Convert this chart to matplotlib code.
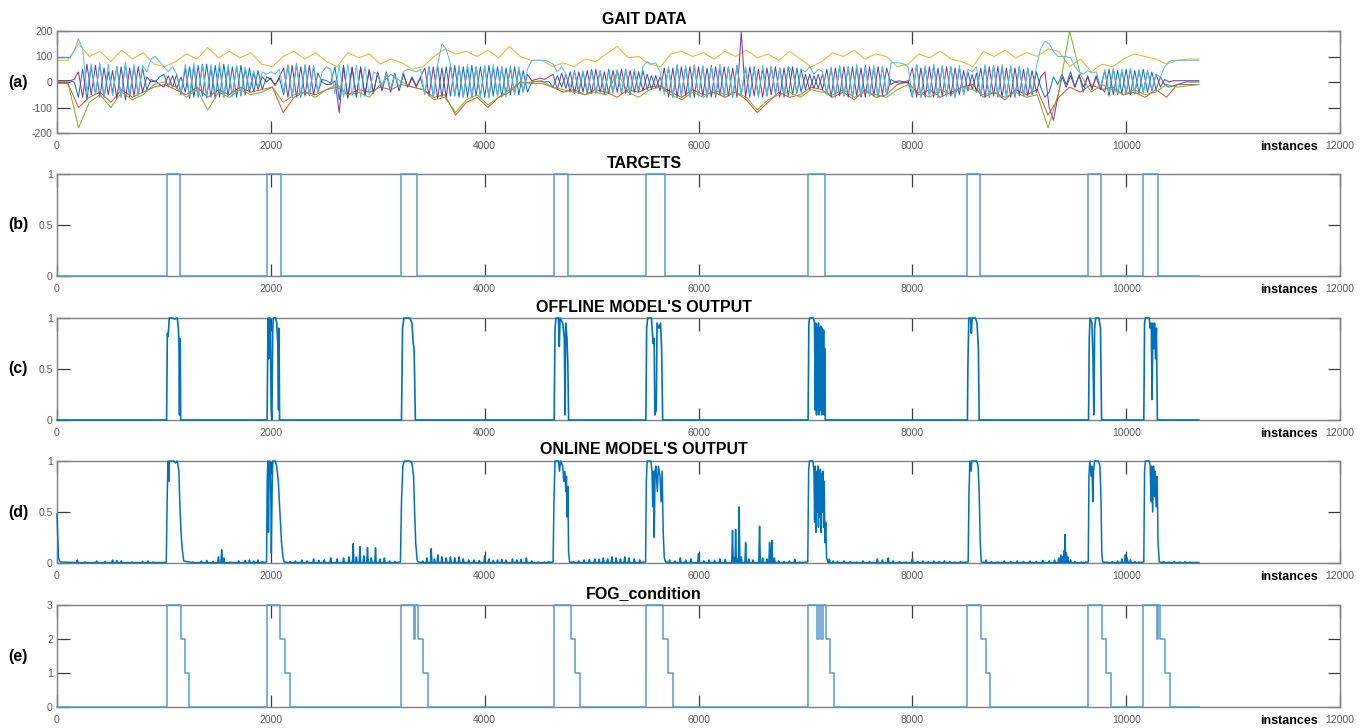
import numpy as np
import matplotlib.pyplot as plt

plt.rcParams['font.family'] = ['Liberation Sans', 'DejaVu Sans']

n_end = 10680  # last recorded instance

# ---------------- gait channels ----------------
# fast channels, one value every 40 instances
gait_blue = [
    5, 5, 5, 5, 0, -60, 50, -70, 60, -50, 70, -60, 40, -40, 60, -60, 70, -60, 60, -50, 55, -30, 10, 0, 20,
    30, -20, 25, -25, 20, -40, 60, -60, 65, -55, 70, -60, 65, -60, 70, -55, 60, -60, 65, -50, 55, -40, 45, -30, 20,
    10, -10, 15, -50, 65, -60, 70, -60, 65, -55, 60, -40, 10, 5, -5, 60, -70, 65, -65, 60, -60, 55, -50, 45, -40,
    35, -35, 40, -30, 35, -35, 30, -20, 20, -15, 15, -45, 60, -60, 65, -60, 60, -55, 65, -60, 60, -60, 65, -55, 60,
    -60, 65, -55, 60, -60, 55, -50, 60, -50, 45, -40, 0, 2, 3, 0, 2, -20, 25, -20, 30, -40, 45, -45, 40, -45,
    50, -45, 45, -50, 50, -40, 45, -45, 50, -50, 40, -40, 45, -30, 25, -25, 20, -40, 55, -60, 65, -55, 60, -60, 65,
    -55, 60, -60, 65, -60, 55, -55, 60, -60, 65, -50, 55, -60, 60, -55, 50, -55, 60, -45, 55, -60, 60, -50, 55, -40,
    30, -30, 25, -25, 30, -45, 55, -60, 60, -55, 60, -60, 55, -60, 65, -55, 55, -60, 60, -50, 10, 0, -5, 0, 5,
    -60, 65, -60, 60, -55, 65, -60, 60, -55, 60, -60, 55, -50, 40, -30, 35, -55, 60, -60, 65, -60, 60, -55, 60, -60,
    60, -55, 55, -50, 40, -20, -60, -40, 20, -10, 30, -10, 40, -20, 30, -40, 25, -30, 25, -20, -40, 50, -50, 45, -45,
    50, -50, 45, -45, 50, -40, 40, -30, 20, -10, -20, -15, -10, -5, 0, 0, 0, 0,
]
gait_purple = [
    5, 5, 5, 5, 10, 40, -60, 70, -50, 65, -60, 55, -50, 45, -65, 60, -70, 55, -55, 60, -40, 20, 0, 5, -10,
    -20, 25, -20, 30, -50, 55, -65, 60, -60, 70, -60, 55, -65, 60, -60, 55, -55, 60, -55, 50, -40, 35, -30, 20, 0,
    15, -15, 20, 55, -60, 65, -60, 60, -55, 65, -50, 35, 0, -10, -10, 5, -120, 60, -60, 55, -55, 60, -55, 50, -45,
    40, -30, 35, -40, 30, -30, 35, -20, 15, -20, 20, 55, -55, 60, -65, 55, -60, 65, -55, 60, -60, 55, -60, 60, -55,
    60, -60, 55, -55, 60, -50, 55, -45, 50, -40, 30, 5, 10, 15, 10, 20, 30, -30, 35, -25, 40, -45, 40, -40, 45,
    -45, 50, -40, 40, -45, 45, -40, 50, -45, 45, -40, 40, -35, 30, -30, 25, -35, 55, -60, 55, -60, 60, -55, 60, -60,
    60, -55, 55, -60, 60, -50, 60, -55, 55, -60, 195, -60, 60, -55, 50, -60, 55, -50, 60, -60, 55, -55, 60, -45, 50,
    -30, 30, -25, 30, -30, 50, -60, 55, -55, 60, -60, 60, -55, 55, -60, 60, -55, 60, -50, 55, -10, 0, 5, 0, -5,
    55, -60, 55, -60, 60, -60, 55, -55, 60, -55, 55, -50, 45, -35, 30, -40, 55, -60, 60, -55, 60, -60, 55, -60, 55,
    -55, 50, -55, 45, -40, 20, 40, -100, -150, -60, 20, -20, 25, -20, 25, -20, 20, -25, 20, -30, 45, -55, 50, -50, 45,
    -45, 50, -45, 45, -40, 45, -35, 30, -20, 10, 0, 5, 5, 5, 5, 5, 5, 5,
]
gait_cyan = [
    95, 95, 95, 95, 120, 170, 130, -40, 70, -50, 75, -60, 70, -55, 60, -60, 75, -50, 70, -55, 65, 40, 90, 100, 80,
    60, 40, 60, 30, -40, 70, -55, 75, -60, 65, -55, 70, -50, 75, -60, 70, -55, 65, -50, 60, -30, 45, -20, 40, 30,
    40, 30, 50, -40, 70, -60, 75, -55, 70, -50, 65, -40, 40, 60, 50, -45, 65, -60, 70, -55, 65, -60, 60, -50, 40,
    30, -20, 35, -30, 30, -25, 40, 50, 45, 40, 50, -50, 60, -60, 70, 150, 130, 70, -55, 65, -60, 70, -55, 60, -60,
    65, -60, 70, -55, 60, -60, 65, -50, 60, -40, 50, 85, 85, 85, 85, 80, 70, 40, 60, 30, -20, 40, -30, 45, -35,
    40, -40, 45, -35, 40, -45, 50, -40, 45, -40, 50, -30, 60, 80, 70, 75, 40, -50, 60, -60, 70, -55, 65, -60, 70,
    -55, 65, -60, 60, -50, 70, -55, 60, -60, 65, -55, 60, -50, 55, -60, 65, -55, 60, -50, 55, -45, 60, 40, -40, 50,
    40, 60, 30, 50, 40, -50, 60, -60, 65, -55, 60, -60, 70, -50, 60, -55, 65, -60, 60, -50, 75, 75, 75, 70, 60,
    -55, 70, -60, 65, -55, 70, -60, 65, -55, 60, -60, 65, -50, 50, 40, 60, -50, 70, -60, 65, -55, 70, -60, 65, -55,
    60, -50, 55, -40, 60, 130, 160, 150, 120, 100, 100, 100, 95, 60, 40, 30, 45, 35, 40, -20, 50, -40, 55, -45, 50,
    -40, 55, -45, 50, -40, 45, -30, 30, 20, 60, 80, 85, 85, 85, 85, 85, 85, 85,
]
# slower channels, one value every ~100 instances
gait_yellow = [
    85, 85, 150, 100, 120, 80, 125, 90, 115, 70,
    60, 80, 110, 90, 135, 95, 120, 95, 115, 70,
    60, 100, 120, 90, 115, 80, 60, 115, 95, 110,
    70, 90, 75, 50, 60, 100, 130, 110, 120, 100,
    125, 95, 140, 100, 85, 85, 60, 75, 60, 90,
    80, 110, 140, 95, 100, 70, 60, 110, 120, 100,
    115, 90, 120, 100, 125, 95, 110, 85, 120, 90,
    60, 80, 115, 100, 125, 90, 110, 100, 60, 70,
    110, 95, 120, 90, 80, 60, 120, 100, 125, 95,
    115, 100, 130, 120, 60, 90, 40, 70, 60, 90,
    110, 100, 90, 70, 85, 90, 90,
]
gait_orange = [
    -5, -5, -100, -60, -40, -80, -30, -60, -40, -20,
    -10, -30, -50, -20, -60, -30, -50, -20, -40, -30,
    -20, -120, -60, -40, -50, -30, -20, -50, -30, -40,
    -20, -30, -10, -20, -30, -60, -50, -130, -80, -60,
    -100, -60, -40, 0, -5, -5, -20, -40, -30, -50,
    -30, -40, -60, -30, -40, -20, -15, -40, -60, -30,
    -50, -40, -60, -40, -70, -120, -80, -40, -60, -50,
    -20, -30, -60, -40, -70, -30, -60, -50, -10, 0,
    -50, -30, -60, -40, -20, -10, -60, -40, -70, -30,
    -50, -30, -130, -60, -20, -40, -10, -30, -20, -50,
    -40, -60, -30, -60, -10, -10, -10,
]
gait_green = [
    0, 0, -180, -80, -50, -100, -40, -70, -50, -10,
    0, -20, -60, -30, -110, -40, -60, -30, -50, -40,
    -20, -80, -50, -40, -60, -30, -10, -50, -40, -60,
    -10, 30, 0, -20, -30, -70, -60, -120, -70, -50,
    -90, -60, -30, -5, 0, 5, -20, -30, -40, -50,
    -40, -50, 40, -40, -60, -30, -20, -50, -70, -40,
    -60, -30, -50, -40, -60, -110, -70, -50, -40, -60,
    -30, -40, -50, -30, -60, -40, -50, -60, -30, -10,
    -40, -60, -30, -50, -20, -30, -50, -40, -60, -40,
    -60, -50, -180, -40, 200, 30, -40, -10, -30, -50,
    -30, -50, -40, -10, -20, -15, -10,
]

# ---------------- targets and FOG condition ----------------
target_edges = [1030, 1155, 1962, 2092, 3217, 3371, 4646, 4779, 5512, 5688,
                7020, 7184, 8510, 8633, 9645, 9763, 10155, 10294]

fog_x = [0, 1030, 1158, 1196, 1237, 1962, 2088, 2133, 2179, 3217, 3335, 3350, 3379, 3421, 3471,
         4646, 4804, 4846, 4896, 5512, 5671, 5712, 5758, 7020, 7110, 7125, 7150, 7165, 7196, 7233, 7265,
         8510, 8645, 8686, 8727, 9645, 9771, 9816, 9857, 10155, 10290, 10300, 10314, 10367, 10408, 10680]
fog_y = [0, 3, 2, 1, 0, 3, 2, 1, 0, 3, 2, 3, 2, 1, 0,
         3, 2, 1, 0, 3, 2, 1, 0, 3, 2, 3, 2, 3, 2, 1, 0,
         3, 2, 1, 0, 3, 2, 1, 0, 3, 2, 3, 2, 1, 0, 0]

# ---------------- model outputs ----------------
offline_pts = [
    (0, 0),
    (1025, 0), (1032, 0.85), (1040, 0.82), (1050, 1), (1080, 1), (1100, 0.99), (1125, 1), (1135, 0.9),
    (1142, 0.7), (1146, 0.05), (1149, 0.8), (1153, 0.7), (1157, 0),
    (1965, 0), (1972, 0.8), (1976, 1), (1982, 0.6), (1988, 1), (1996, 0.95), (2003, 0.1), (2010, 0),
    (2018, 0.9), (2025, 1), (2045, 1), (2055, 0.95), (2065, 0.75), (2072, 0.1), (2076, 0.9), (2082, 0),
    (3222, 0), (3232, 0.9), (3245, 1), (3300, 1), (3320, 0.95), (3332, 0.75), (3340, 0.7), (3352, 0),
    (4650, 0), (4658, 0.9), (4668, 1), (4690, 1), (4698, 0.72), (4705, 1), (4730, 0.95), (4745, 0.8),
    (4752, 0.05), (4758, 0.95), (4770, 0.8), (4778, 0.55), (4785, 0),
    (5508, 0), (5515, 0.9), (5525, 1), (5560, 1), (5575, 0.75), (5585, 0.8), (5592, 0.05), (5605, 0.1),
    (5612, 0.95), (5630, 0.9), (5645, 0.95), (5655, 0.7), (5665, 0),
    (7025, 0), (7032, 0.95), (7040, 1), (7075, 1), (7085, 0.95), (7092, 0.1), (7098, 0.95), (7104, 0.05),
    (7110, 0.9), (7116, 0.1), (7122, 0.95), (7128, 0.05), (7134, 0.9), (7140, 0.1), (7146, 0.92),
    (7152, 0.05), (7158, 0.9), (7164, 0.1), (7170, 0.88), (7176, 0.05), (7180, 0.7), (7186, 0),
    (8515, 0), (8520, 0.55), (8528, 1), (8545, 1), (8552, 0.85), (8560, 1), (8590, 1), (8605, 0.95),
    (8618, 0.7), (8625, 0),
    (9648, 0), (9655, 0.8), (9662, 1), (9680, 0.95), (9690, 0.6), (9698, 0.05), (9705, 0.9), (9715, 1),
    (9745, 1), (9760, 0.9), (9770, 0),
    (10165, 0), (10172, 0.95), (10180, 1), (10215, 1), (10225, 0.9), (10235, 0.95), (10242, 0.2),
    (10250, 0.95), (10258, 0.7), (10265, 0.95), (10275, 0.6), (10283, 0.9), (10292, 0),
    (10680, 0),
]

online_pts = [
    (0, 0.48), (6, 0.3), (14, 0.05), (30, 0.01),
    (1022, 0.005), (1030, 0.6), (1038, 1), (1045, 0.8), (1052, 1), (1090, 1), (1110, 0.98), (1125, 1),
    (1140, 0.9), (1150, 0.55), (1160, 0.3), (1170, 0.15), (1185, 0.02),
    (1960, 0.01), (1966, 0.8), (1972, 1), (1978, 0.3), (1984, 0.9), (1990, 1), (1998, 0.85), (2005, 0.1),
    (2012, 0.7), (2018, 1), (2040, 1), (2055, 0.95), (2070, 0.8), (2085, 0.5), (2100, 0.2), (2115, 0.05),
    (2125, 0.01),
    (3212, 0.01), (3222, 0.6), (3235, 0.95), (3250, 1), (3300, 1), (3320, 0.98), (3335, 0.85), (3345, 0.5),
    (3355, 0.2), (3368, 0.03), (3378, 0.01),
    (4640, 0.01), (4648, 0.6), (4658, 1), (4690, 1), (4700, 0.9), (4710, 1), (4730, 0.95), (4740, 0.8),
    (4750, 0.9), (4760, 0.7), (4765, 0.85), (4772, 0.45), (4778, 0.75), (4785, 0.1), (4795, 0.01),
    (5505, 0.01), (5512, 0.8), (5520, 1), (5555, 1), (5565, 0.9), (5572, 0.55), (5580, 0.9), (5586, 0.25),
    (5594, 0.9), (5602, 0.95), (5615, 0.7), (5625, 0.95), (5640, 0.85), (5650, 0.6), (5660, 0.9),
    (5670, 0.3), (5680, 0.05), (5692, 0.01),
    (7022, 0.01), (7030, 0.9), (7038, 1), (7070, 1), (7080, 0.9), (7086, 0.4), (7092, 0.95), (7098, 0.3),
    (7104, 0.9), (7110, 0.5), (7116, 0.95), (7122, 0.35), (7128, 0.9), (7134, 0.45), (7140, 0.92),
    (7146, 0.3), (7152, 0.88), (7158, 0.5), (7164, 0.9), (7170, 0.35), (7176, 0.8), (7182, 0.2),
    (7190, 0.4), (7198, 0.05), (7210, 0.01),
    (8522, 0.01), (8530, 0.7), (8538, 1), (8550, 0.9), (8556, 1), (8600, 1), (8615, 0.95), (8625, 0.7),
    (8635, 0.2), (8645, 0.01),
    (9645, 0.01), (9652, 0.85), (9660, 1), (9672, 0.85), (9680, 0.95), (9688, 0.6), (9695, 0.9),
    (9705, 1), (9740, 1), (9755, 0.95), (9765, 0.6), (9772, 0.1), (9780, 0.01),
    (10165, 0.01), (10172, 0.9), (10180, 1), (10215, 1), (10225, 0.95), (10232, 0.6), (10240, 0.95),
    (10248, 0.5), (10256, 0.95), (10264, 0.65), (10272, 0.9), (10280, 0.55), (10290, 0.85),
    (10298, 0.2), (10310, 0.01),
    (10680, 0.005),
]

# small false-alarm spikes of the online model between events
noise_x = [190, 260, 370, 450, 520, 560, 600, 700, 800, 850, 900,
           1270, 1350, 1400, 1460, 1510, 1540, 1560, 1620, 1700, 1760, 1800, 1840, 1880, 1920,
           2180, 2230, 2290, 2340, 2400, 2450, 2500, 2560, 2620, 2680, 2730, 2770, 2800, 2833, 2870,
           2904, 2940, 2979, 3020, 3062, 3110, 3160,
           3420, 3460, 3500, 3530, 3562, 3600, 3640, 3680, 3720, 3760, 3800, 3850, 3900, 3950, 4000,
           4040, 4080, 4120, 4160, 4200, 4260, 4300, 4340, 4390, 4440, 4500, 4560, 4600, 4830, 4880,
           4930, 4980,
           5030, 5070, 5110, 5150, 5190, 5230, 5270, 5310, 5350, 5400, 5450, 5730, 5780, 5830, 5880,
           5930, 6000,
           6050, 6100, 6150, 6200, 6250, 6318, 6335, 6347, 6365, 6380, 6400, 6441, 6470, 6510, 6571,
           6600, 6640, 6665, 6686, 6710, 6750, 6800, 6850, 6900, 6950,
           7224, 7260, 7300, 7360, 7420, 7480, 7540, 7600, 7673, 7720, 7775, 7820, 7880, 7940, 8000,
           8050, 8100, 8150, 8200, 8250, 8300, 8350, 8400, 8450, 8690, 8740, 8800, 8860, 8920, 8980,
           9040, 9100, 9160, 9220, 9280, 9330, 9370, 9390, 9405, 9418, 9429, 9440, 9455, 9480, 9520,
           9580, 9620, 9820, 9870, 9920, 9960, 9992, 10010, 10040, 10080, 10120,
           10350, 10400, 10450, 10500, 10550, 10600]
noise_h = [0.03, 0.01, 0.02, 0.015, 0.03, 0.025, 0.02, 0.01, 0.015, 0.02, 0.01,
           0.01, 0.02, 0.025, 0.015, 0.06, 0.13, 0.05, 0.01, 0.02, 0.025, 0.03, 0.02, 0.03, 0.015,
           0.015, 0.02, 0.03, 0.02, 0.04, 0.025, 0.03, 0.05, 0.04, 0.05, 0.06, 0.19, 0.06, 0.16, 0.07,
           0.15, 0.05, 0.15, 0.04, 0.05, 0.02, 0.015,
           0.02, 0.05, 0.14, 0.04, 0.08, 0.06, 0.05, 0.06, 0.05, 0.06, 0.04, 0.03, 0.03, 0.025, 0.07,
           0.04, 0.025, 0.03, 0.035, 0.03, 0.04, 0.03, 0.035, 0.05, 0.02, 0.01, 0.01, 0.015, 0.015, 0.02,
           0.03, 0.035,
           0.04, 0.035, 0.05, 0.04, 0.06, 0.05, 0.04, 0.06, 0.05, 0.04, 0.03, 0.03, 0.02, 0.05, 0.03,
           0.04, 0.09,
           0.02, 0.03, 0.025, 0.04, 0.035, 0.32, 0.05, 0.33, 0.04, 0.55, 0.06, 0.2, 0.04, 0.03, 0.36,
           0.05, 0.04, 0.2, 0.22, 0.05, 0.02, 0.015, 0.02, 0.035, 0.01,
           0.04, 0.02, 0.015, 0.02, 0.015, 0.01, 0.02, 0.015, 0.04, 0.03, 0.05, 0.02, 0.015, 0.01, 0.04,
           0.015, 0.02, 0.015, 0.02, 0.015, 0.02, 0.015, 0.01, 0.015, 0.03, 0.015, 0.01, 0.02, 0.015, 0.02,
           0.015, 0.02, 0.015, 0.025, 0.02, 0.03, 0.05, 0.08, 0.06, 0.12, 0.28, 0.1, 0.06, 0.03, 0.015,
           0.01, 0.01, 0.01, 0.015, 0.02, 0.04, 0.08, 0.05, 0.03, 0.015, 0.01,
           0.015, 0.01, 0.015, 0.01, 0.012, 0.01]

# ---------------- assemble series ----------------
def grid(vals):
    return np.linspace(0, n_end, len(vals))

tx = [0] + target_edges + [n_end]
ty = [0] + [1, 0] * (len(target_edges) // 2) + [0]

off_x, off_y = zip(*offline_pts)

on_x = [p[0] for p in online_pts]
on_y = [p[1] for p in online_pts]
for x, h in zip(noise_x, noise_h):
    on_x += [x - 7, x, x + 7]
    on_y += [0.004, h, 0.004]
order = np.argsort(on_x, kind='stable')
on_x = np.array(on_x)[order]
on_y = np.array(on_y)[order]

# ---------------- figure ----------------
fig = plt.figure(figsize=(13.63, 7.28), dpi=100)

tops = [31, 174, 318, 461, 605]
ax_h = 102
left, width = 57 / 1363, 1283 / 1363
titles = ["GAIT DATA", "TARGETS", "OFFLINE MODEL'S OUTPUT", "ONLINE MODEL'S OUTPUT", "FOG_condition"]
tags = ["(a)", "(b)", "(c)", "(d)", "(e)"]

axes = []
for top, title, tag in zip(tops, titles, tags):
    ax = fig.add_axes([left, 1 - (top + ax_h) / 728, width, ax_h / 728])
    axes.append(ax)
    fig.text(644 / 1363, 1 - (top - 11) / 728, title, ha='center', va='center',
             fontsize=11.5, fontweight='bold')
    fig.text(18 / 1363, 1 - (top + ax_h / 2) / 728, tag, ha='center', va='center',
             fontsize=11.5, fontweight='bold')


def style(ax, ylim, yticks, ylabels):
    ax.set_xlim(0, 12000)
    ax.set_ylim(*ylim)
    ax.set_xticks(range(0, 12001, 2000))
    ax.set_xticklabels(['0', '2000', '4000', '6000', '8000', '10000', '12000'])
    ax.set_yticks(yticks)
    ax.set_yticklabels(ylabels)
    ax.tick_params(axis='both', direction='in', length=9, width=0.9, top=True, right=True,
                   color='#3c3c3c', labelcolor='#5a5a5a', labelsize=7.5)
    ax.tick_params(axis='x', pad=6)
    ax.tick_params(axis='y', pad=3)
    for s in ax.spines.values():
        s.set_color('#808080')
        s.set_linewidth(1.0)
    ax.annotate('instances', xy=(0.983, 0), xycoords='axes fraction', xytext=(0, -10),
                textcoords='offset points', ha='right', va='center', fontsize=9, fontweight='bold')


# (a) gait channels, MATLAB default colour order
ax = axes[0]
for vals, col in [(gait_blue, '#0072BD'), (gait_orange, '#D95319'), (gait_yellow, '#EDB120'),
                  (gait_purple, '#7E2F8E'), (gait_green, '#77AC30'), (gait_cyan, '#4DBEEE')]:
    ax.plot(grid(vals), vals, color=col, lw=0.7)
style(ax, (-200, 200), [-200, -100, 0, 100, 200], ['-200', '-100', '0', '100', '200'])

# (b) targets
ax = axes[1]
ax.plot(tx, ty, drawstyle='steps-post', color='#5a9bcb', lw=1.1, clip_on=False, zorder=3)
style(ax, (0, 1), [0, 0.5, 1], ['0', '0.5', '1'])

# (c) offline output
ax = axes[2]
ax.plot(off_x, off_y, color='#0072BD', lw=1.2, clip_on=False, zorder=3)
style(ax, (0, 1), [0, 0.5, 1], ['0', '0.5', '1'])

# (d) online output
ax = axes[3]
ax.plot(on_x, on_y, color='#0072BD', lw=1.1, clip_on=False, zorder=3)
style(ax, (0, 1), [0, 0.5, 1], ['0', '0.5', '1'])

# (e) FOG condition
ax = axes[4]
ax.plot(fog_x, fog_y, drawstyle='steps-post', color='#5a9bcb', lw=1.1, clip_on=False, zorder=3)
style(ax, (0, 3), [0, 1, 2, 3], ['0', '1', '2', '3'])

fig.savefig('out.png', dpi=100)
